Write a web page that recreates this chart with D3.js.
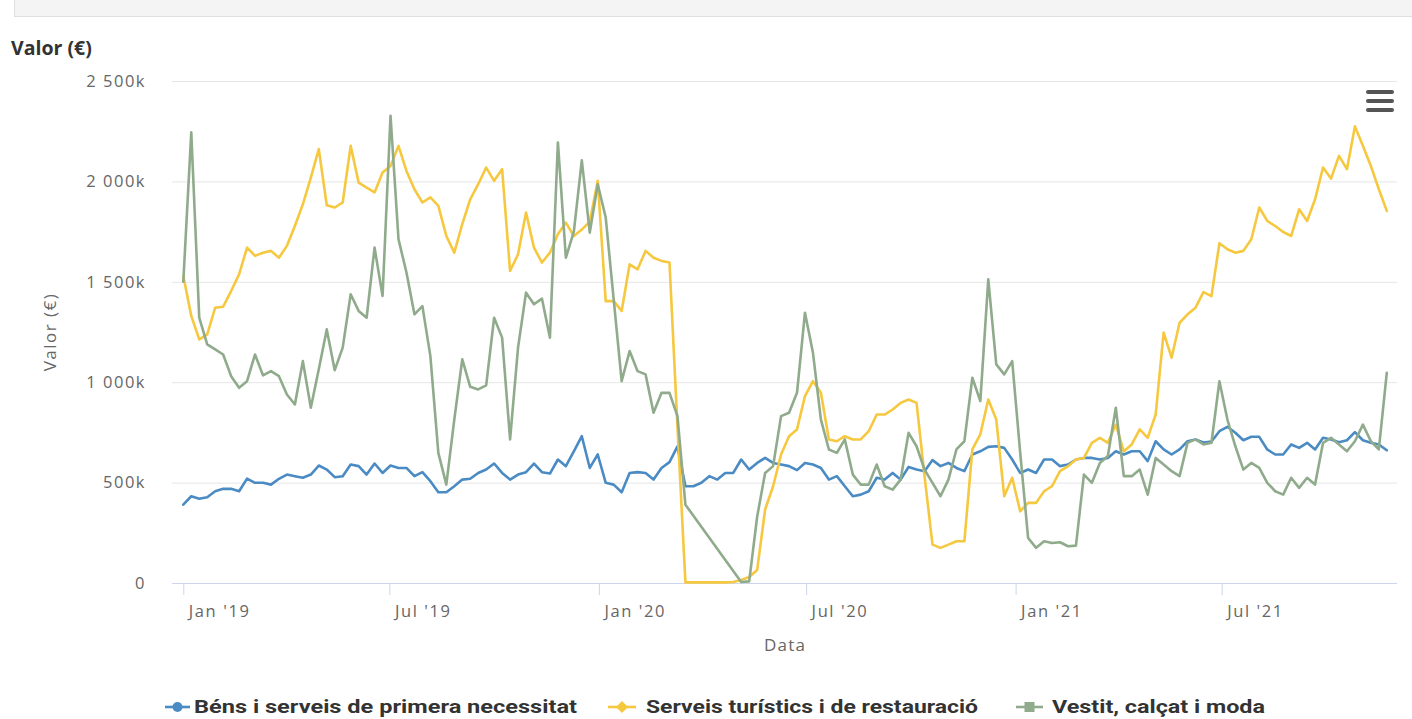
<!DOCTYPE html>
<html>
<head>
<meta charset="utf-8">
<script src="https://cdn.jsdelivr.net/npm/d3@7"></script>
<style>
  body { margin: 0; background: #ffffff; }
  svg { display: block; }
</style>
</head>
<body>
<svg id="chart" width="1412" height="719"></svg>
<script>
// ---------- DATA (values in thousands of €) ----------
const firstWeek = "2019-01-01";
const lastWeek = "2021-11-23";
const seriesNames = ["Béns i serveis de primera necessitat", "Serveis turístics i de restauració", "Vestit, calçat i moda"];
const seriesColors = ["#4a8bc3", "#f6c83f", "#8fab8c"];

const bens = [390,432,420,427,457,469,469,457,520,499,499,490,519,540,532,524,540,585,565,527,532,590,582,540,595,
  548,585,573,573,532,552,507,452,452,482,515,519,548,565,595,548,515,540,552,595,552,545,615,582,656,
  731,573,640,499,490,452,548,552,548,515,573,602,680,482,482,499,532,515,548,548,615,565,598,623,598,590,
  582,562,598,590,573,515,532,482,432,440,457,524,515,548,515,578,565,557,612,582,598,573,557,640,656,
  678,681,673,615,548,565,548,615,615,582,590,615,623,623,615,623,656,640,656,656,607,706,665,640,665,706,
  715,700,705,756,778,748,711,728,728,665,640,640,690,673,698,665,723,715,701,711,751,711,698,690,661];

const turisme = [1530,1330,1213,1238,1371,1376,1454,1537,1670,1629,1645,1654,1620,1679,1778,1886,2019,2161,1881,1870,1895,2177,1994,1969,1945,
  2044,2077,2177,2052,1961,1895,1920,1878,1728,1645,1787,1911,1986,2069,2003,2061,1554,1637,1845,1670,1596,1645,1737,1795,1728,
  1760,1800,2003,1404,1404,1355,1587,1562,1654,1620,1604,1596,780,3,3,3,3,3,3,5,15,30,65,366,482,640,
  731,765,931,1005,947,715,706,731,715,715,756,839,839,864,897,914,897,532,191,175,191,208,208,665,740,
  914,814,432,524,357,399,399,457,482,557,582,615,623,698,723,698,789,656,690,765,723,839,1247,1122,1296,1338,
  1371,1449,1429,1692,1662,1645,1654,1712,1870,1803,1778,1748,1728,1861,1803,1911,2069,2014,2127,2061,2274,2177,2077,1961,1853];

const moda = [1500,2244,1321,1188,1163,1138,1030,972,1005,1138,1034,1055,1030,939,889,1105,873,1064,1263,1060,1172,1438,1355,1321,1670,
  1429,2327,1712,1546,1338,1379,1130,648,490,814,1114,977,964,984,1321,1222,715,1172,1446,1388,1416,1222,2194,1620,1750,
  2105,1745,1986,1820,1413,1005,1155,1055,1039,848,947,947,831,390,null,null,null,null,null,null,5,8,330,548,582,831,
  848,947,1346,1147,814,665,648,715,540,490,490,590,482,465,515,748,681,565,499,432,515,665,706,1022,906,
  1512,1089,1039,1105,650,224,175,208,199,203,183,186,540,499,598,632,873,532,532,565,440,623,590,557,532,698,
  715,690,698,1005,814,681,565,598,573,499,457,440,524,474,524,490,698,723,690,656,706,789,706,665,1047];

const yTickValues = [0, 500, 1000, 1500, 2000, 2500];
const xTickDates = ["2019-01-01", "2019-07-01", "2020-01-01", "2020-07-01", "2021-01-01", "2021-07-01"];

// ---------- LAYOUT ----------
const W = 1412, H = 719;
const plotLeft = 172, plotRight = 1397, plotTop = 81, plotBottom = 583;

const svg = d3.select("#chart");
const parse = d3.utcParse("%Y-%m-%d");
// weekly dates starting at firstWeek
const weekDates = [];
for (let d = parse(firstWeek); d <= parse(lastWeek); d = d3.utcDay.offset(d, 7)) weekDates.push(d);

// x scale anchored on the axis ticks, then extended to the plot edges
const xAnchor = d3.scaleUtc().domain([parse("2019-01-01"), parse("2021-07-01")]).range([183.3, 1221.7]);
const x = d3.scaleUtc().domain([xAnchor.invert(plotLeft), xAnchor.invert(plotRight)]).range([plotLeft, plotRight]);
const y = d3.scaleLinear().domain([0, 2500]).range([plotBottom, plotTop]);

const locale = d3.formatLocale({ decimal: ",", thousands: " ", grouping: [3], currency: ["", "€"] });
const fmt = locale.format(",");

// top grey bar
svg.append("rect").attr("x", 14.5).attr("y", -4).attr("width", 1410).attr("height", 20.5)
  .attr("fill", "#f4f4f4").attr("stroke", "#e0e0e0");

// title
svg.append("text").attr("x", 11).attr("y", 55).text("Valor (€)")
  .attr("font-family", "Open Sans, sans-serif").attr("font-weight", "bold").attr("font-size", 19.5).attr("fill", "#333");

// gridlines + y labels
const yAxis = d3.axisLeft(y).tickValues(yTickValues).tickSize(-(plotRight - plotLeft)).tickPadding(26)
  .tickFormat(d => d === 0 ? "0" : fmt(d) + "k");
const gy = svg.append("g").attr("transform", `translate(${plotLeft},0)`).call(yAxis);
gy.select(".domain").remove();
gy.selectAll(".tick line").attr("stroke", "#e6e6e6").attr("stroke-width", 1);
gy.selectAll(".tick text").attr("font-family", "Open Sans, sans-serif").attr("font-size", 16.5)
  .attr("fill", "#666").attr("letter-spacing", 1.5);

// x axis
const xAxis = d3.axisBottom(x).tickValues(xTickDates.map(parse)).tickSize(12).tickPadding(10)
  .tickFormat(d3.utcFormat("%b '%y"));
const gx = svg.append("g").attr("transform", `translate(0,${plotBottom})`).call(xAxis);
gx.select(".domain").attr("stroke", "#ccd6eb").attr("d", `M${plotLeft},0.5H${plotRight}`);
gx.selectAll(".tick line").attr("stroke", "#ccd6eb");
gx.selectAll(".tick text").attr("text-anchor", "start").attr("dx", 5)
  .attr("font-family", "Open Sans, sans-serif").attr("font-size", 16.5).attr("fill", "#666").attr("letter-spacing", 1.6);

// axis titles
svg.append("text").attr("transform", "translate(56,332) rotate(-90)").attr("text-anchor", "middle")
  .text("Valor (€)").attr("font-family", "Open Sans, sans-serif").attr("font-size", 17).attr("fill", "#666")
  .attr("letter-spacing", 1.5);
svg.append("text").attr("x", 785).attr("y", 651).attr("text-anchor", "middle")
  .text("Data").attr("font-family", "Open Sans, sans-serif").attr("font-size", 17).attr("fill", "#666")
  .attr("letter-spacing", 1.2);

// lines
const allSeries = [bens, turisme, moda];
const line = d3.line().x(d => x(d.date)).y(d => y(d.v));
allSeries.forEach((vals, si) => {
  const pts = vals.map((v, i) => ({ date: weekDates[i], v })).filter(p => p.v !== null);
  svg.append("path").datum(pts).attr("d", line).attr("fill", "none")
    .attr("stroke", seriesColors[si]).attr("stroke-width", 2.6).attr("stroke-linejoin", "round").attr("stroke-linecap", "round");
});

// hamburger menu
[0, 1, 2].forEach(k => {
  svg.append("rect").attr("x", 1366).attr("y", 90 + k * 9).attr("width", 28).attr("height", 4).attr("rx", 2)
    .attr("fill", "#555");
});

// legend
const legendItems = [
  { x0: 165, x1: 190, tx: 194, tw: 383 },
  { x0: 608, x1: 636, tx: 646, tw: 332 },
  { x0: 1016, x1: 1043, tx: 1052, tw: 213 }
];
const ly = 707;
legendItems.forEach((it, i) => {
  const g = svg.append("g");
  g.append("line").attr("x1", it.x0).attr("x2", it.x1).attr("y1", ly).attr("y2", ly)
    .attr("stroke", seriesColors[i]).attr("stroke-width", 2.6);
  const cx = (it.x0 + it.x1) / 2;
  if (i === 0) g.append("circle").attr("cx", cx).attr("cy", ly).attr("r", 5).attr("fill", seriesColors[i]);
  if (i === 1) g.append("path").attr("d", `M${cx},${ly - 6}L${cx + 6},${ly}L${cx},${ly + 6}L${cx - 6},${ly}Z`).attr("fill", seriesColors[i]);
  if (i === 2) g.append("rect").attr("x", cx - 5).attr("y", ly - 5).attr("width", 10).attr("height", 10).attr("fill", seriesColors[i]);
  g.append("text").attr("x", it.tx).attr("y", ly + 6).text(seriesNames[i])
    .attr("font-family", "Liberation Sans Narrow, Roboto, sans-serif").attr("font-weight", "bold").attr("font-size", 18.5)
    .attr("fill", "#333").attr("textLength", it.tw).attr("lengthAdjust", "spacingAndGlyphs");
});
</script>
</body>
</html>
